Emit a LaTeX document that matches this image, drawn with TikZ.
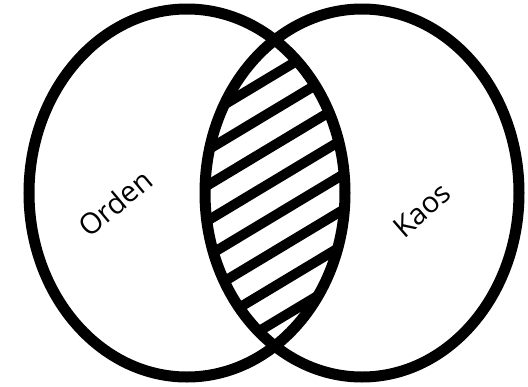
\documentclass[tikz,border=0pt]{standalone}
\usepackage{fontspec}
\setmainfont{Open Sans}
\usetikzlibrary{positioning,calc}
\tikzset{
  ring/.style={draw=black,line width=11pt},
  hatch/.style={draw=black,line width=10pt},
  setlabel/.style={font=\fontsize{29}{35}\selectfont,inner sep=0pt},
}

\begin{document}
\begin{tikzpicture}[x=1pt,y=-1pt]
        \fill[white] (0,0) rectangle (528,386);
        \useasboundingbox (0,0) rectangle (528,386);
        % hatched intersection
        \begin{scope}
          \clip (187,193) ellipse [x radius=158,y radius=184];
          \clip (362,193) ellipse [x radius=157,y radius=184];
          \foreach \k in {-4,...,9}
            \draw[hatch] ({0.515*(235.5+30.3*\k)-300*0.857},{0.857*(235.5+30.3*\k)+300*0.515})
                      -- ({0.515*(235.5+30.3*\k)+300*0.857},{0.857*(235.5+30.3*\k)-300*0.515});
        \end{scope}
        \draw[ring] (187,193) ellipse [x radius=158,y radius=184];
        \draw[ring] (362,193) ellipse [x radius=157,y radius=184];
        \node[setlabel,rotate=40] (orden) at (115,203) {Orden};
        \node[setlabel,rotate=41] (kaos) at (422,210) {Kaos};
      \end{tikzpicture}
\end{document}
